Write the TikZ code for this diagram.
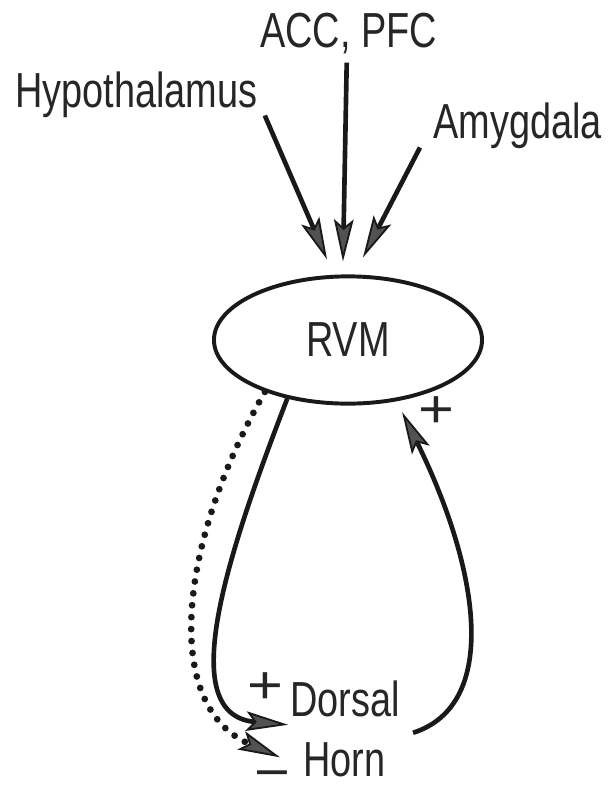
\documentclass[tikz,border=0pt]{standalone}
\usepackage{fontspec}
\setmainfont{Liberation Sans}[FakeStretch=0.77]
\usepackage{xcolor}
\usetikzlibrary{arrows.meta, positioning, shapes.geometric}

\begin{document}
\begin{tikzpicture}[x=0.025cm, y=-0.025cm,
        >={Stealth[length=30pt, width=14pt, inset=6pt, line width=1.3pt, fill=black!68]},
        every node/.style={font=\fontsize{35}{40}\selectfont, text=black!85, inner sep=0pt},
        lbl/.style={anchor=base west},
        sign/.style={font=\fontsize{38}{42}\selectfont\addfontfeature{FakeStretch=1.15}},
        region/.style={ellipse, draw=black!90, line width=2.8pt, minimum width=6.7cm, minimum height=3.18cm},
        proj/.style={draw=black!90, line width=3.3pt},
        dots/.style={draw=black!90, line width=4.8pt, line cap=round, dash pattern=on 0pt off 8.5pt}]

        \useasboundingbox (0,0) rectangle (608,785);

        \node (acc) [lbl] at (260,47) {ACC, PFC};
        \node (hyp) [lbl] at (15,107) {Hypothalamus};
        \node (amy) [lbl] at (433,138) {Amygdala};
        \node (rvm) [region] at (348,340) {RVM};
        \node (dorsal) [lbl] at (290,716) {Dorsal};
        \node (horn) [lbl] at (303,776) {Horn};
        \node (plusr) [sign] at (436,412) {+};
        \node (plusd) [sign] at (265,688) {+};
        \node (minush) [sign] at (272,781) {−};

        % inputs to RVM
        \draw[->, proj] ([shift={(7,-2)}]hyp.south east) -- ([shift={(-21,-15)}]rvm.north);
        \draw[->, proj] ([shift={(-2,9)}]acc.south) -- ([shift={(-5,-13)}]rvm.north);
        \draw[->, proj] ([shift={(-13,-1)}]amy.south west) -- ([shift={(15,-17)}]rvm.north);

        % descending and ascending loops
        \draw[->, proj] (rvm.224) .. controls (225,560) and (175,715) .. ([shift={(-2,8)}]dorsal.south west);
        \draw[->, dots] (rvm.212) .. controls (180,540) and (160,705) .. ([shift={(-23,-2)}]horn.west);
        \draw[->, proj] ([shift={(13,16)}]dorsal.south east) .. controls (500,705) and (480,570) .. ([shift={(0,12)}]rvm.312);
    \end{tikzpicture}
\end{document}
